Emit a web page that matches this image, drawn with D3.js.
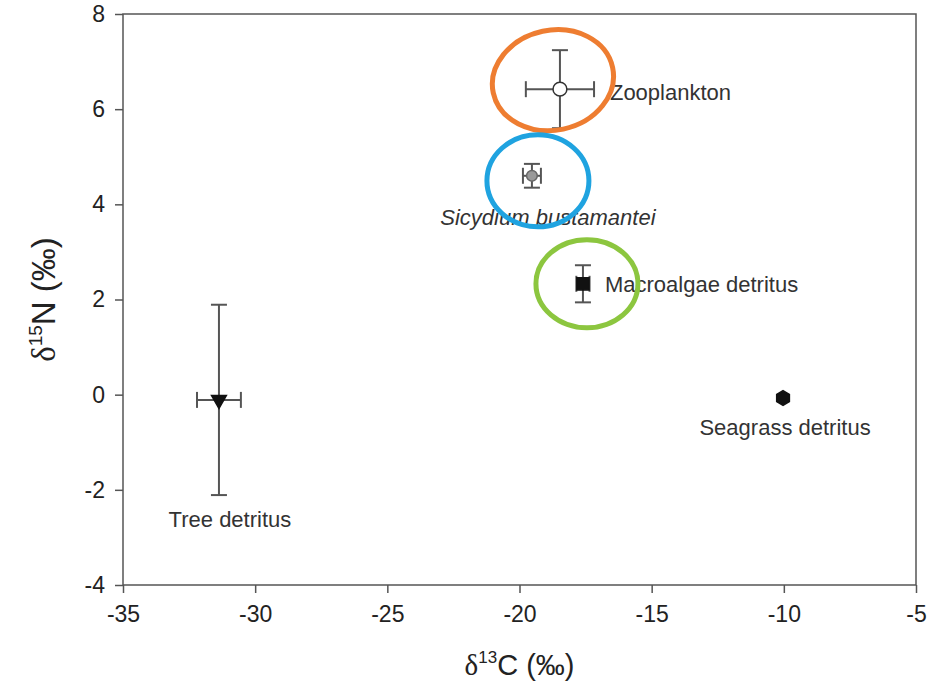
<!DOCTYPE html>
<html>
<head>
<meta charset="utf-8">
<script src="https://cdn.jsdelivr.net/npm/d3@7"></script>
<style>
  body { margin: 0; background: #fff; }
  svg { display: block; }
  .axis text { font-family: "Liberation Sans", Arial, sans-serif; font-size: 23px; fill: #222; }
  .axis line, .axis path { stroke: #555; stroke-width: 1.5; }
</style>
</head>
<body>
<div class="chart"></div>
<script>
// values
const groups = ['Zooplankton', 'Sicydium bustamantei', 'Macroalgae detritus', 'Tree detritus', 'Seagrass detritus'];
const d13C = [-18.47, -19.53, -17.6, -31.37, -10.03];
const d15N = [6.42, 4.6, 2.33, -0.11, -0.07];
const sdC = [1.29, 0.34, 0.25, 0.83, 0];
const sdN = [0.82, 0.25, 0.39, 2.0, 0];
const xTicks = [-35, -30, -25, -20, -15, -10, -5];
const yTicks = [-4, -2, 0, 2, 4, 6, 8];

const W = 952, H = 695;
const margin = {top: 14, left: 123, right: 36, bottom: 110};
const width = W - margin.left - margin.right;
const height = H - margin.top - margin.bottom;

const data = groups.map((g, i) => ({name: g, c: d13C[i], n: d15N[i], sc: sdC[i], sn: sdN[i]}));

let svg = d3.select('.chart')
    .append('svg')
    .attr('width', W)
    .attr('height', H)
    .append('g')
    .attr('transform', `translate(${margin.left},${margin.top})`);

let xScale = d3.scaleLinear().domain([-35, -5]).range([0, width]);
let yScale = d3.scaleLinear().domain([-4, 8]).range([height, 0]);

// frame
svg.append('rect')
    .attr('width', width)
    .attr('height', height)
    .attr('fill', 'none')
    .attr('stroke', '#555')
    .attr('stroke-width', 1.5);

svg.append('g')
    .attr('class', 'axis x-axis')
    .attr('transform', `translate(0,${height})`)
    .call(d3.axisBottom(xScale).tickValues(xTicks).tickFormat(d => String(d)).tickSize(8).tickPadding(13).tickSizeOuter(0))
    .call(g => g.select('.domain').remove());

svg.append('g')
    .attr('class', 'axis y-axis')
    .call(d3.axisLeft(yScale).tickValues(yTicks).tickFormat(d => String(d)).tickSize(8).tickPadding(10).tickSizeOuter(0))
    .call(g => g.select('.domain').remove());

// axis titles
const xt = svg.append('text')
    .attr('x', width / 2)
    .attr('y', height + 90)
    .attr('text-anchor', 'middle')
    .attr('font-family', '"Liberation Sans", Arial, sans-serif')
    .attr('font-size', 29)
    .attr('fill', '#222');
xt.append('tspan').attr('font-family', '"Liberation Serif", serif').text('δ');
xt.append('tspan').attr('font-size', 17).attr('dy', -12).text('13');
xt.append('tspan').attr('dy', 12).text('C (‰)');

const yt = svg.append('text')
    .attr('transform', `translate(-68,${height / 2}) rotate(-90)`)
    .attr('text-anchor', 'middle')
    .attr('font-family', '"Liberation Sans", Arial, sans-serif')
    .attr('font-size', 33)
    .attr('fill', '#222');
yt.append('tspan').attr('font-family', '"Liberation Serif", serif').text('δ');
yt.append('tspan').attr('font-size', 19).attr('dy', -13).text('15');
yt.append('tspan').attr('dy', 13).text('N (‰)');

// error bars
const cap = 8;
const eb = svg.append('g')
    .attr('stroke', '#555')
    .attr('stroke-width', 2)
    .attr('fill', 'none');

data.filter(d => d.sn > 0).forEach(d => {
    const x = xScale(d.c), y0 = yScale(d.n - d.sn), y1 = yScale(d.n + d.sn);
    eb.append('line').attr('x1', x).attr('x2', x).attr('y1', y0).attr('y2', y1);
    eb.append('line').attr('x1', x - cap).attr('x2', x + cap).attr('y1', y0).attr('y2', y0);
    eb.append('line').attr('x1', x - cap).attr('x2', x + cap).attr('y1', y1).attr('y2', y1);
});
data.filter(d => d.sc > 0).forEach(d => {
    const y = yScale(d.n), x0 = xScale(d.c - d.sc), x1 = xScale(d.c + d.sc);
    eb.append('line').attr('x1', x0).attr('x2', x1).attr('y1', y).attr('y2', y);
    eb.append('line').attr('x1', x0).attr('x2', x0).attr('y1', y - cap).attr('y2', y + cap);
    eb.append('line').attr('x1', x1).attr('x2', x1).attr('y1', y - cap).attr('y2', y + cap);
});

// hexagon marker for the seagrass point
const symbolHexagon = {
    draw(ctx, size) {
        const r = Math.sqrt(size * 2 / (3 * Math.sqrt(3)));
        for (let k = 0; k < 6; k++) {
            const a = Math.PI / 3 * k - Math.PI / 2;
            k ? ctx.lineTo(r * Math.cos(a), r * Math.sin(a)) : ctx.moveTo(r * Math.cos(a), r * Math.sin(a));
        }
        ctx.closePath();
    }
};

// markers, one style per group
const markers = [
    {type: d3.symbolCircle, size: 150, fill: '#fff', stroke: '#333'},
    {type: d3.symbolCircle, size: 90, fill: '#999', stroke: '#666'},
    {type: d3.symbolSquare, size: 150, fill: '#111', stroke: '#111'},
    {type: d3.symbolTriangle, size: 95, fill: '#111', stroke: '#111', rotate: 180},
    {type: symbolHexagon, size: 140, fill: '#111', stroke: '#111'}
];

svg.selectAll('.pt')
    .data(data)
    .join('path')
    .attr('class', 'pt')
    .attr('transform', (d, i) => `translate(${xScale(d.c)},${yScale(d.n)}) rotate(${markers[i].rotate || 0})`)
    .attr('d', (d, i) => d3.symbol(markers[i].type, markers[i].size)())
    .attr('fill', (d, i) => markers[i].fill)
    .attr('stroke', (d, i) => markers[i].stroke)
    .attr('stroke-width', 1.5);

// point labels, placed like the original
const place = [
    {dx: 50, dy: 11, anchor: 'start'},
    {dx: 16, dy: 49, anchor: 'middle', italic: true},
    {dx: 22, dy: 8, anchor: 'start'},
    {dx: 11, dy: 127, anchor: 'middle'},
    {dx: 2, dy: 37, anchor: 'middle'}
];

svg.selectAll('.lbl')
    .data(data)
    .join('text')
    .attr('class', 'lbl')
    .attr('x', (d, i) => xScale(d.c) + place[i].dx)
    .attr('y', (d, i) => yScale(d.n) + place[i].dy)
    .attr('text-anchor', (d, i) => place[i].anchor)
    .attr('font-style', (d, i) => place[i].italic ? 'italic' : 'normal')
    .attr('font-family', '"Liberation Sans", Arial, sans-serif')
    .attr('font-size', 22)
    .attr('fill', '#333')
    .text(d => d.name);

// hand-drawn highlight rings around the first three groups
const rings = [
    {i: 0, color: '#EE7D31', dx: -7, dy: -9, rx: 61, ry: 50, rot: -12},
    {i: 1, color: '#1FA3E0', dx: 6, dy: 5, rx: 51, ry: 46, rot: 0},
    {i: 2, color: '#8CC63F', dx: 4, dy: 0, rx: 51, ry: 44, rot: 0}
];

svg.selectAll('.ring')
    .data(rings)
    .join('ellipse')
    .attr('class', 'ring')
    .attr('transform', r => `translate(${xScale(data[r.i].c) + r.dx},${yScale(data[r.i].n) + r.dy}) rotate(${r.rot})`)
    .attr('rx', r => r.rx)
    .attr('ry', r => r.ry)
    .attr('fill', 'none')
    .attr('stroke', r => r.color)
    .attr('stroke-width', 5);
</script>
</body>
</html>
